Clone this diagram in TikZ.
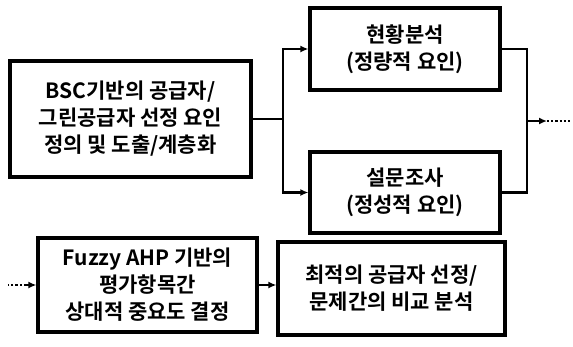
\documentclass[tikz,border=0pt]{standalone}
\usepackage{fontspec}
\setmainfont{Noto Sans CJK KR}[BoldFont={Noto Sans CJK KR Bold}]
\usepackage{tikz}
\usetikzlibrary{arrows.meta}

\begin{document}
\begin{tikzpicture}[x=1pt,y=-1pt,font=\fontsize{21}{27}\selectfont\bfseries,
  box/.style={draw,line width=3.2pt,align=center,inner sep=0pt},
  link/.style={line width=2.2pt},
  flow/.style={link,-{Latex[length=8pt,width=7pt]}}]
\useasboundingbox (0,0) rectangle (573,346);
\node[box,minimum width=241pt,minimum height=116pt] (define) at (130.5,119) {BSC기반의 공급자/\\그린공급자 선정 요인\\정의 및 도출/계층화};
\node[box,minimum width=190pt,minimum height=82pt] (status) at (405,49) {현황분석\\(정량적 요인)};
\node[box,minimum width=190pt,minimum height=81pt] (survey) at (405,192.5) {설문조사\\(정성적 요인)};
\node[box,minimum width=219pt,minimum height=94pt] (fahp) at (147.5,285) {Fuzzy AHP 기반의\\평가항목간\\상대적 중요도 결정};
\node[box,minimum width=227pt,minimum height=93pt] (select) at (391.5,288.5) {최적의 공급자 선정/\\문제간의 비교 분석};
% split after the definition step
\coordinate (split) at (283,119);
\draw[link] (define.east) -- (split);
\draw[flow] (split) |- (status.west);
\draw[flow] (split) |- (survey.west);
% merge of both analyses
\coordinate (merge) at (527,121);
\draw[link] (status.east) -| (merge) |- (survey.east);
\draw[flow] (merge) -- ++(20,0) coordinate (cont);
\draw[link,dotted] (cont) -- ++(24,0);
% second row
\coordinate (resume) at (26,285);
\draw[link,dotted] (resume) -- ++(-18,0);
\draw[flow] (resume) -- (fahp.west);
\draw[flow] (fahp.east) -- (fahp.east -| select.west);
\end{tikzpicture}
\end{document}
